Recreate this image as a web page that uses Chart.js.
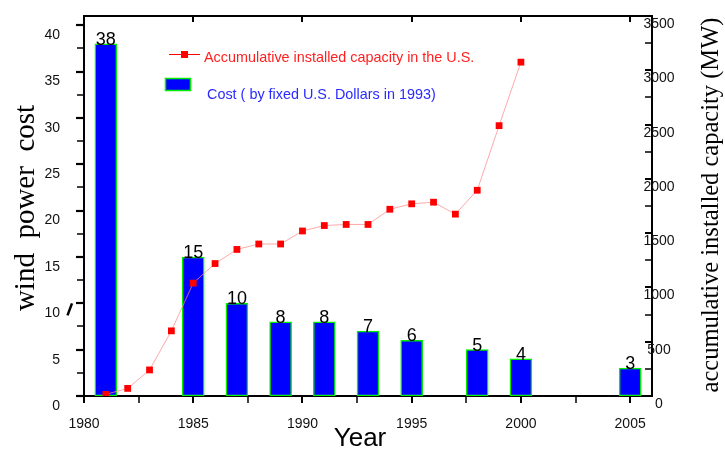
<!DOCTYPE html>
<html>
<head>
<meta charset="utf-8">
<script src="https://cdn.jsdelivr.net/npm/chart.js@4.4.1/dist/chart.umd.min.js"></script>
<style>
  html, body { margin: 0; padding: 0; background: #fff; }
  #wrap { width: 725px; height: 451px; position: relative; }
</style>
</head>
<body>
<div id="wrap"><canvas id="c"></canvas></div>
<script>
// Wind power cost (fixed 1993 U.S. dollars) by year
const costYears = [1981, 1985, 1987, 1989, 1991, 1993, 1995, 1998, 2000, 2005];
const costValues = [38, 15, 10, 8, 8, 7, 6, 5, 4, 3];

// Accumulative installed capacity in the U.S. (MW)
const capacityYears = [1981, 1982, 1983, 1984, 1985, 1986, 1987, 1988, 1989, 1990,
                       1991, 1992, 1993, 1994, 1995, 1996, 1997, 1998, 1999, 2000];
const capacityValues = [15, 70, 240, 600, 1040, 1220, 1350, 1400, 1400, 1520,
                        1570, 1580, 1580, 1720, 1770, 1785, 1675, 1895, 2490, 3075];

// Axis ranges and tick steps
const yearRange = [1980, 2006];
const costRange = [0, 41];
const capacityRange = [0, 3500];
const yearStep = 2.5, costStep = 2.5, capacityStep = 250;
const yearLabelEvery = 5, costLabelEvery = 5, capacityLabelEvery = 500;

const costLabel = 'Cost ( by fixed U.S. Dollars in 1993)';
const capacityLabel = 'Accumulative installed capacity in the U.S.';

const SANS = '"Liberation Sans", Arial, sans-serif';
const SERIF = '"Liberation Serif", "Times New Roman", serif';

const tickFont = { family: SANS, size: 14 };
const tickColor = '#111';

function isMultiple(v, step) {
  return Math.abs(v % step) < 1e-6;
}
function labelEvery(step) {
  return v => (isMultiple(v, step) ? String(v) : '');
}
// keep the axis box exactly where the layout puts it
function noEdgePadding(s) {
  s.paddingTop = 0; s.paddingBottom = 0; s.paddingLeft = 0; s.paddingRight = 0;
}

// Tick marks, box edge, axis titles, legend and value labels
const decorations = {
  id: 'decorations',
  afterDraw(chart) {
    const ctx = chart.ctx;
    const a = chart.chartArea;
    const x = chart.scales.x, y = chart.scales.y, y1 = chart.scales.y1;
    ctx.save();
    ctx.strokeStyle = '#000';
    ctx.lineCap = 'butt';

    // top edge of the box
    ctx.lineWidth = 2;
    ctx.beginPath();
    ctx.moveTo(a.left - 1, a.top);
    ctx.lineTo(a.right + 1, a.top);
    ctx.stroke();

    // bottom axis ticks (outward) and top axis ticks (inward)
    x.ticks.forEach(t => {
      const px = Math.round(x.getPixelForValue(t.value));
      const major = isMultiple(t.value, yearLabelEvery);
      ctx.lineWidth = major ? 2 : 1.5;
      ctx.beginPath();
      ctx.moveTo(px, a.bottom);
      ctx.lineTo(px, a.bottom + 7);
      ctx.stroke();
      if (major) {
        ctx.beginPath();
        ctx.moveTo(px, a.top);
        ctx.lineTo(px, a.top + 6);
        ctx.stroke();
      }
    });

    // left axis ticks (outward)
    y.ticks.forEach(t => {
      const py = Math.round(y.getPixelForValue(t.value));
      const major = isMultiple(t.value, costLabelEvery);
      ctx.lineWidth = major ? 2.2 : 1.5;
      ctx.beginPath();
      ctx.moveTo(a.left - (major ? 8 : 7), py);
      ctx.lineTo(a.left + (major ? 1 : 0), py);
      ctx.stroke();
    });

    // right axis ticks (inward) and their labels, which sit across the axis line
    ctx.font = tickFont.size + 'px ' + SANS;
    ctx.fillStyle = tickColor;
    ctx.textAlign = 'center';
    ctx.textBaseline = 'middle';
    y1.ticks.forEach(t => {
      const py = Math.round(y1.getPixelForValue(t.value));
      const major = isMultiple(t.value, capacityLabelEvery);
      ctx.lineWidth = major ? 2 : 1.5;
      ctx.beginPath();
      ctx.moveTo(a.right - 7, py);
      ctx.lineTo(a.right, py);
      ctx.stroke();
      if (major) {
        ctx.fillText(String(t.value), a.right + 7, py + 8);
      }
    });

    // small slash mark beside the cost axis
    const slashY = y.getPixelForValue(10);
    ctx.lineWidth = 2.5;
    ctx.beginPath();
    ctx.moveTo(a.left - 16.5, slashY + 12);
    ctx.lineTo(a.left - 12, slashY);
    ctx.stroke();

    // value labels on the cost bars
    const barMeta = chart.getDatasetMeta(1);
    ctx.font = '18px ' + SANS;
    ctx.fillStyle = '#000';
    ctx.textAlign = 'center';
    ctx.textBaseline = 'middle';
    barMeta.data.forEach((bar, i) => {
      ctx.fillText(String(costValues[i]), bar.x, bar.y - 4);
    });

    // axis titles
    ctx.fillStyle = '#000';
    ctx.textAlign = 'center';
    ctx.textBaseline = 'alphabetic';
    ctx.font = '26px ' + SANS;
    ctx.fillText('Year', (a.left + a.right) / 2 - 8, 446);

    ctx.save();
    ctx.translate(34, 208);
    ctx.rotate(-Math.PI / 2);
    ctx.font = '29px ' + SERIF;
    ctx.fillText('wind  power  cost', 0, 0);
    ctx.restore();

    ctx.save();
    ctx.translate(718, 205);
    ctx.rotate(-Math.PI / 2);
    ctx.font = '24.5px ' + SERIF;
    ctx.fillText('accumulative installed capacity (MW)', 0, 0);
    ctx.restore();

    // legend
    const lineDs = chart.data.datasets[0];
    const barDs = chart.data.datasets[1];
    ctx.strokeStyle = lineDs.pointBackgroundColor;
    ctx.lineWidth = 1;
    ctx.beginPath();
    ctx.moveTo(169, 54.5);
    ctx.lineTo(200, 54.5);
    ctx.stroke();
    ctx.fillStyle = lineDs.pointBackgroundColor;
    ctx.fillRect(181, 51, 7, 7);
    ctx.font = '14.4px ' + SANS;
    ctx.textAlign = 'left';
    ctx.textBaseline = 'middle';
    ctx.fillStyle = '#ff1f1f';
    ctx.fillText(capacityLabel, 204, 58);

    ctx.fillStyle = barDs.backgroundColor;
    ctx.fillRect(165.5, 78.5, 25, 12);
    ctx.strokeStyle = barDs.borderColor;
    ctx.lineWidth = 1.5;
    ctx.strokeRect(165.5, 78.5, 25, 12);
    ctx.fillStyle = '#2a2aff';
    ctx.fillText(costLabel, 207, 95);

    ctx.restore();
  }
};

new Chart(document.getElementById('c'), {
  data: {
    datasets: [
      {
        type: 'line',
        label: capacityLabel,
        data: capacityYears.map((yr, i) => ({ x: yr, y: capacityValues[i] })),
        yAxisID: 'y1',
        borderColor: 'rgba(255,140,140,0.75)',
        borderWidth: 1,
        tension: 0,
        pointStyle: 'rect',
        pointRadius: 4.8,
        pointBorderWidth: 0,
        pointBackgroundColor: '#ff0000',
        order: 0
      },
      {
        type: 'bar',
        label: costLabel,
        data: costYears.map((yr, i) => ({ x: yr, y: costValues[i] })),
        yAxisID: 'y',
        backgroundColor: '#0000ff',
        borderColor: '#00ee00',
        borderWidth: 1.5,
        borderSkipped: false,
        barThickness: 22,
        order: 1
      }
    ]
  },
  options: {
    responsive: true,
    maintainAspectRatio: false,
    animation: false,
    layout: { padding: { top: 16, left: 0, right: 0, bottom: 0 } },
    plugins: { legend: { display: false }, tooltip: { enabled: false } },
    scales: {
      x: {
        type: 'linear',
        position: 'bottom',
        min: yearRange[0],
        max: yearRange[1],
        offset: false,
        grid: { display: false, drawTicks: false },
        border: { display: true, color: '#000', width: 2 },
        ticks: {
          stepSize: yearStep,
          includeBounds: false,
          autoSkip: false,
          maxRotation: 0,
          padding: 20,
          font: tickFont,
          color: tickColor,
          callback: labelEvery(yearLabelEvery)
        },
        afterFit(s) { s.height = 55; noEdgePadding(s); }
      },
      y: {
        type: 'linear',
        position: 'left',
        min: costRange[0],
        max: costRange[1],
        grid: { display: false, drawTicks: false },
        border: { display: true, color: '#000', width: 2 },
        ticks: {
          stepSize: costStep,
          includeBounds: false,
          autoSkip: false,
          padding: 24,
          labelOffset: 10,
          font: tickFont,
          color: tickColor,
          callback: labelEvery(costLabelEvery)
        },
        afterFit(s) { s.width = 84; noEdgePadding(s); }
      },
      y1: {
        type: 'linear',
        position: 'right',
        min: capacityRange[0],
        max: capacityRange[1],
        grid: { display: false, drawTicks: false },
        border: { display: true, color: '#000', width: 2 },
        ticks: {
          stepSize: capacityStep,
          includeBounds: false,
          autoSkip: false,
          display: false
        },
        afterFit(s) { s.width = 73; noEdgePadding(s); }
      }
    }
  },
  plugins: [decorations]
});
</script>
</body>
</html>
